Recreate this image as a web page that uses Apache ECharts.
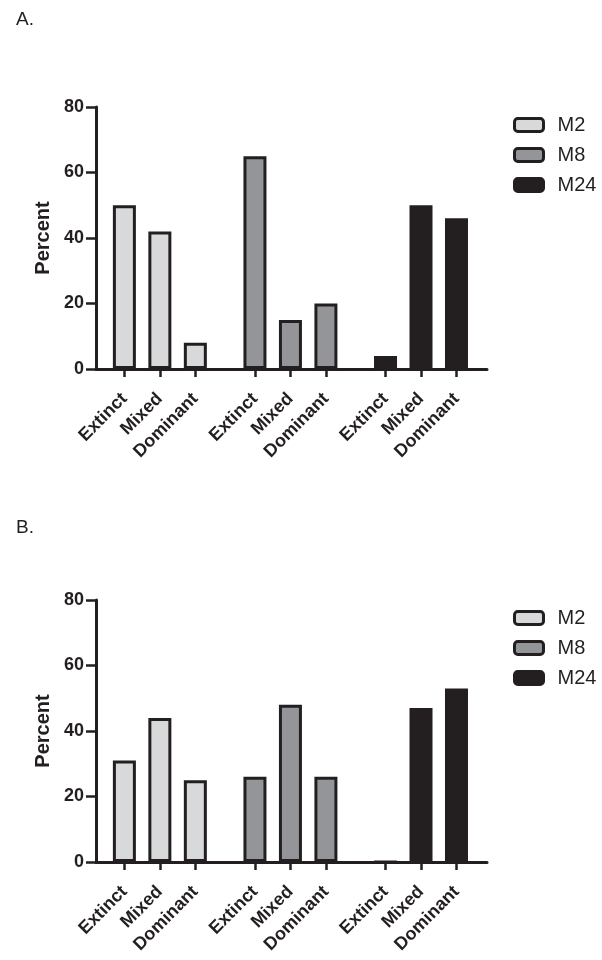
<!DOCTYPE html>
<html>
<head>
<meta charset="utf-8">
<script src="https://cdn.jsdelivr.net/npm/echarts@6/dist/echarts.min.js"></script>
<style>
html,body{margin:0;padding:0;background:#fff;}
#chart{width:602px;height:960px;}
</style>
</head>
<body>
<div id="chart"></div>
<script>
// ---- data ----
const categories = ['Extinct', 'Mixed', 'Dominant'];
const seriesNames = ['M2', 'M8', 'M24'];
const panelTitles = ['A.', 'B.'];
const yTicks = [0, 20, 40, 60, 80];

const panelA_M2 = [50, 42, 8];
const panelA_M8 = [65, 15, 20];
const panelA_M24 = [4, 50, 46];

const panelB_M2 = [31, 44, 25];
const panelB_M8 = [26, 48, 26];
const panelB_M24 = [0, 47, 53];

// ---- layout / style ----
const FONT = '"Liberation Sans", Arial, Helvetica, sans-serif';
const INK = '#231f20';
const fills = ['#d8d9da', '#939598', '#231f20'];
const GROUP_STEP = 3.68;
const positions = [];
for (let g = 0; g < 3; g++) for (let i = 0; i < 3; i++) positions.push(g * GROUP_STEP + i);

const panels = [
  { data: [panelA_M2, panelA_M8, panelA_M24], gridTop: 107, legendTop: 115, titleTop: 5 },
  { data: [panelB_M2, panelB_M8, panelB_M24], gridTop: 600, legendTop: 608, titleTop: 513 }
];

function labelFor(v) {
  let best = 0, bd = Infinity;
  positions.forEach((p, k) => { const d = Math.abs(p - v); if (d < bd) { bd = d; best = k; } });
  return categories[best % 3];
}

const option = {
  animation: false,
  backgroundColor: '#ffffff',
  title: panels.map((p, pi) => ({
    text: panelTitles[pi], left: 11, top: p.titleTop,
    textStyle: { fontFamily: FONT, fontSize: 19, fontWeight: 'normal', color: INK }
  })),
  legend: panels.map((p, pi) => ({
    data: seriesNames.map(n => n + (pi === 0 ? '' : ' ')),
    orient: 'vertical', left: 513, top: p.legendTop, padding: 0,
    itemWidth: 29, itemHeight: 13, itemGap: 10,
    icon: 'roundRect',
    selectedMode: false,
    itemStyle: { borderColor: INK, borderWidth: 3 },
    formatter: n => n.trim(),
    textStyle: { fontFamily: FONT, fontSize: 20, color: INK, padding: [0, 0, 0, 9] }
  })),
  grid: panels.map(p => ({ left: 96, width: 391, top: p.gridTop, height: 262, containLabel: false })),
  xAxis: panels.map((p, pi) => ({
    type: 'value', gridIndex: pi, min: -0.80, max: 10.22,
    splitLine: { show: false },
    axisLine: { show: true, onZero: false, lineStyle: { color: INK, width: 3 } },
    axisTick: { show: true, customValues: positions, length: 8, lineStyle: { color: INK, width: 2.5 } },
    axisLabel: {
      show: true, customValues: positions, rotate: 45, margin: 27,
      padding: [24, 0, 0, 0],
      formatter: v => labelFor(v),
      fontFamily: FONT, fontSize: 18, fontWeight: 'bold', color: INK
    }
  })),
  yAxis: panels.map((p, pi) => ({
    type: 'value', gridIndex: pi, min: yTicks[0], max: yTicks[yTicks.length - 1], interval: 20,
    name: 'Percent', nameLocation: 'middle', nameGap: 38, nameRotate: 90,
    nameTextStyle: { fontFamily: FONT, fontSize: 20, fontWeight: 'bold', color: INK },
    splitLine: { show: false },
    axisLine: { show: true, onZero: false, lineStyle: { color: INK, width: 3 } },
    axisTick: { show: true, length: 10, lineStyle: { color: INK, width: 2.5 } },
    axisLabel: { margin: 12, fontFamily: FONT, fontSize: 18, fontWeight: 'bold', color: INK }
  })),
  series: []
};

panels.forEach((p, pi) => {
  p.data.forEach((vals, si) => {
    option.series.push({
      type: 'bar',
      name: seriesNames[si] + (pi === 0 ? '' : ' '),
      xAxisIndex: pi, yAxisIndex: pi,
      barWidth: 23, barGap: '-100%',
      itemStyle: { color: fills[si], borderColor: INK, borderWidth: 3 },
      data: vals.map((v, ci) => [positions[si * 3 + ci], v])
    });
  });
});

const chart = echarts.init(document.getElementById('chart'), null, { renderer: 'canvas' });
chart.setOption(option);
</script>
</body>
</html>
